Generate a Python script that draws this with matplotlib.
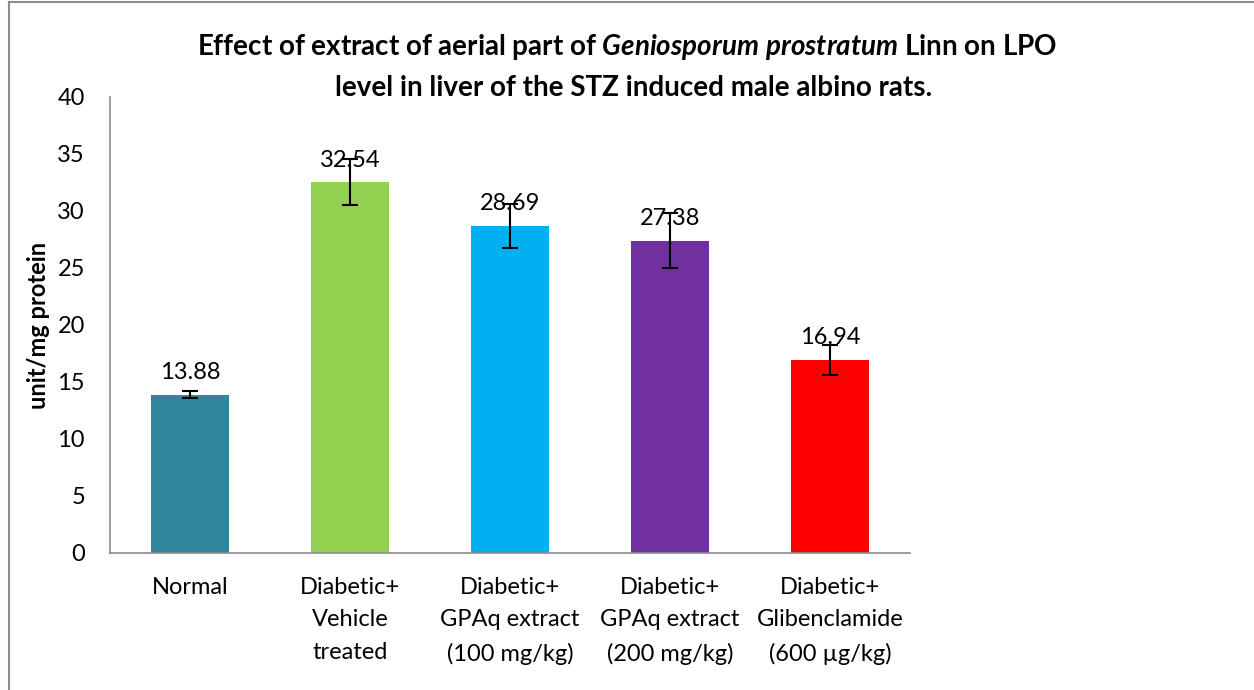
import matplotlib
matplotlib.use("Agg")
import matplotlib.pyplot as plt
import numpy as np
from matplotlib.lines import Line2D

categories = ["Normal", "Diabetic+\nVehicle\ntreated", "Diabetic+\nGPAq extract\n(100 mg/kg)",
              "Diabetic+\nGPAq extract\n(200 mg/kg)", "Diabetic+\nGlibenclamide\n(600 µg/kg)"]
values = [13.88, 32.54, 28.69, 27.38, 16.94]
errors = [0.3, 2.0, 1.9, 2.4, 1.3]
labels = ["13.88", "32.54", "28.69", "27.38", "16.94"]
colors = ["#31859C", "#92D050", "#00B0F0", "#7030A0", "#FF0000"]

plt.rcParams["font.family"] = ["Lato", "DejaVu Sans"]
plt.rcParams["mathtext.fontset"] = "custom"
plt.rcParams["mathtext.it"] = "Lato:italic:bold"
plt.rcParams["mathtext.rm"] = "Lato:bold"

fig = plt.figure(figsize=(12.54, 6.9), dpi=100)
ax = fig.add_axes([0.0877, 0.1986, 0.638, 0.6609])

x = np.arange(len(values))
ax.bar(x, values, width=0.49, color=colors, zorder=2)
ax.errorbar(x, values, yerr=errors, fmt="none", ecolor="black",
            elinewidth=1.5, capsize=6, capthick=1.5, zorder=3)

for xi, v, lab in zip(x, values, labels):
    ax.text(xi, v + 1.0, lab, ha="center", va="bottom", fontsize=17)

ax.set_xlim(-0.5, 4.5)
ax.set_ylim(0, 40)
ax.set_yticks(range(0, 41, 5))
ax.set_xticks(x)
ax.set_xticklabels(categories, fontsize=17, linespacing=1.7)
ax.tick_params(axis="both", length=0, labelsize=17)
ax.tick_params(axis="x", pad=17)
ax.tick_params(axis="y", pad=18)
for s in ["top", "right"]:
    ax.spines[s].set_visible(False)
for s in ["left", "bottom"]:
    ax.spines[s].set_color("#8c8c8c")
    ax.spines[s].set_linewidth(1.2)

ax.set_ylabel("unit/mg protein", fontsize=17, fontweight="bold", labelpad=5)

fig.text(0.5, 0.932, "Effect of extract of aerial part of $Geniosporum\\ prostratum$ Linn on LPO",
         ha="center", va="center", fontsize=20, fontweight="bold")
fig.text(0.505, 0.872, "level in liver of the STZ induced male albino rats.",
         ha="center", va="center", fontsize=20, fontweight="bold")

# outer chart border (left and top visible)
fig.add_artist(Line2D([0.0075, 0.0075], [0, 0.997], transform=fig.transFigure,
                      color="#8c8c8c", linewidth=1.5))
fig.add_artist(Line2D([0.0075, 1], [0.997, 0.997], transform=fig.transFigure,
                      color="#8c8c8c", linewidth=1.5))

fig.savefig("out.png", dpi=100)
